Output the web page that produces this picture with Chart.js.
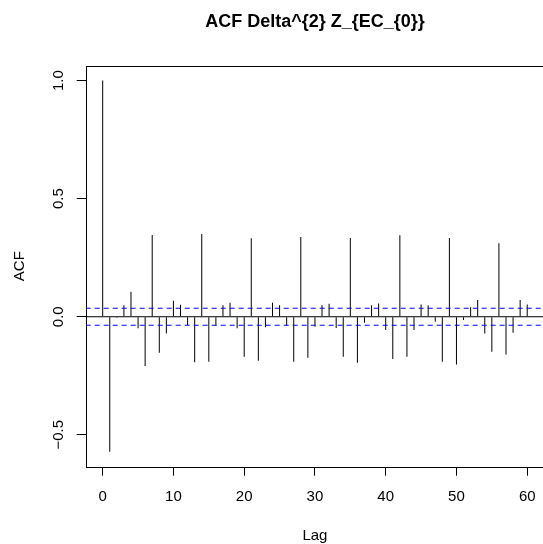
<!DOCTYPE html>
<html>
<head>
<meta charset="utf-8">
<script src="https://cdn.jsdelivr.net/npm/chart.js@4/dist/chart.umd.min.js"></script>
<style>
  html, body { margin: 0; padding: 0; background: #fff; overflow: hidden; }
  #wrap { width: 546px; height: 544px; }
</style>
</head>
<body>
<div id="wrap"><canvas id="acfplot" width="546" height="544"></canvas></div>
<script>
// autocorrelations of the twice-differenced series, lags 0..60
const lags = Array.from({length: 61}, (_, i) => i)
const acfValues = [
    1.000, -0.572, -0.004, 0.049, 0.106, -0.049, -0.209, 0.346, -0.153, -0.071,
    0.068, 0.051, -0.035, -0.193, 0.350, -0.191, -0.037, 0.049, 0.059, -0.049,
    -0.169, 0.332, -0.186, -0.044, 0.059, 0.049, -0.037, -0.191, 0.338, -0.174,
    -0.042, 0.049, 0.055, -0.048, -0.169, 0.333, -0.195, -0.025, 0.049, 0.056,
    -0.056, -0.179, 0.345, -0.169, -0.056, 0.052, 0.049, -0.021, -0.191, 0.333,
    -0.202, -0.014, 0.040, 0.071, -0.071, -0.148, 0.311, -0.160, -0.068, 0.071,
    0.052
]
const ciBound = 0.036   // 95% white-noise band
const xRange = [-2.4, 62.4]
const yRange = [-0.635, 1.063]

Chart.defaults.font.family = "'Liberation Sans', Arial, sans-serif"
Chart.defaults.font.size = 15
Chart.defaults.color = "#000"

// R-style box round the plot region
const boxPlugin = {
    id: "box",
    afterDraw(chart) {
        const {ctx, chartArea: a} = chart
        ctx.save()
        ctx.strokeStyle = "#000"
        ctx.lineWidth = 1
        ctx.strokeRect(Math.round(a.left) + 0.5, Math.round(a.top) + 0.5,
            Math.round(a.right - a.left), Math.round(a.bottom - a.top))
        ctx.restore()
    }
}

const hline = (y, color, dash) => ({
    type: "line",
    data: [{x: xRange[0], y: y}, {x: xRange[1], y: y}],
    borderColor: color,
    borderWidth: 1,
    borderDash: dash,
    pointRadius: 0,
    order: 1
})

new Chart(document.getElementById("acfplot"), {
    type: "bar",
    data: {
        datasets: [
            hline(0, "#000", []),
            hline(ciBound, "#0000ff", [5, 4]),
            hline(-ciBound, "#0000ff", [5, 4]),
            {
                data: lags.map((l, i) => ({x: l, y: acfValues[i]})),
                backgroundColor: "#000",
                borderWidth: 0,
                barThickness: 1,
                inflateAmount: 0,
                order: 2
            }
        ]
    },
    options: {
        responsive: false,
        animation: false,
        layout: {padding: {left: 0, right: 1.8, top: 0, bottom: 0}},
        plugins: {
            legend: {display: false},
            tooltip: {enabled: false},
            title: {
                display: true,
                text: "ACF Delta^{2} Z_{EC_{0}}",
                fullSize: false,
                color: "#000",
                font: {size: 18, weight: "bold"},
                padding: {top: 11.5, bottom: 32.6}
            }
        },
        scales: {
            x: {
                type: "linear",
                min: xRange[0],
                max: xRange[1],
                offset: false,
                grid: {drawOnChartArea: false, drawTicks: true, tickLength: 9, color: "#000", offset: false},
                border: {display: false},
                ticks: {
                    stepSize: 10,
                    includeBounds: false,
                    maxRotation: 0,
                    padding: 0,
                    font: {size: 15, lineHeight: 2.8},
                    color: "#000",
                    callback: v => String(Math.round(v))
                },
                title: {display: true, text: "Lag", color: "#000", font: {size: 15}, padding: {top: 0, bottom: -1}},
                afterFit: s => { s.height = 77.3 }
            },
            y: {
                min: yRange[0],
                max: yRange[1],
                grid: {drawOnChartArea: false, drawTicks: true, tickLength: 9, color: "#000"},
                border: {display: false},
                ticks: {
                    stepSize: 0.5,
                    includeBounds: false,
                    minRotation: 90,
                    maxRotation: 90,
                    crossAlign: "center",
                    padding: 3,
                    color: "#000",
                    callback: v => v.toFixed(1).replace("-", "\u2212")
                },
                title: {display: true, text: "ACF", color: "#000", font: {size: 15}, padding: {top: 11, bottom: 0}},
                afterFit: s => { s.width = 85.7 }
            }
        }
    },
    plugins: [boxPlugin]
})
</script>
</body>
</html>
